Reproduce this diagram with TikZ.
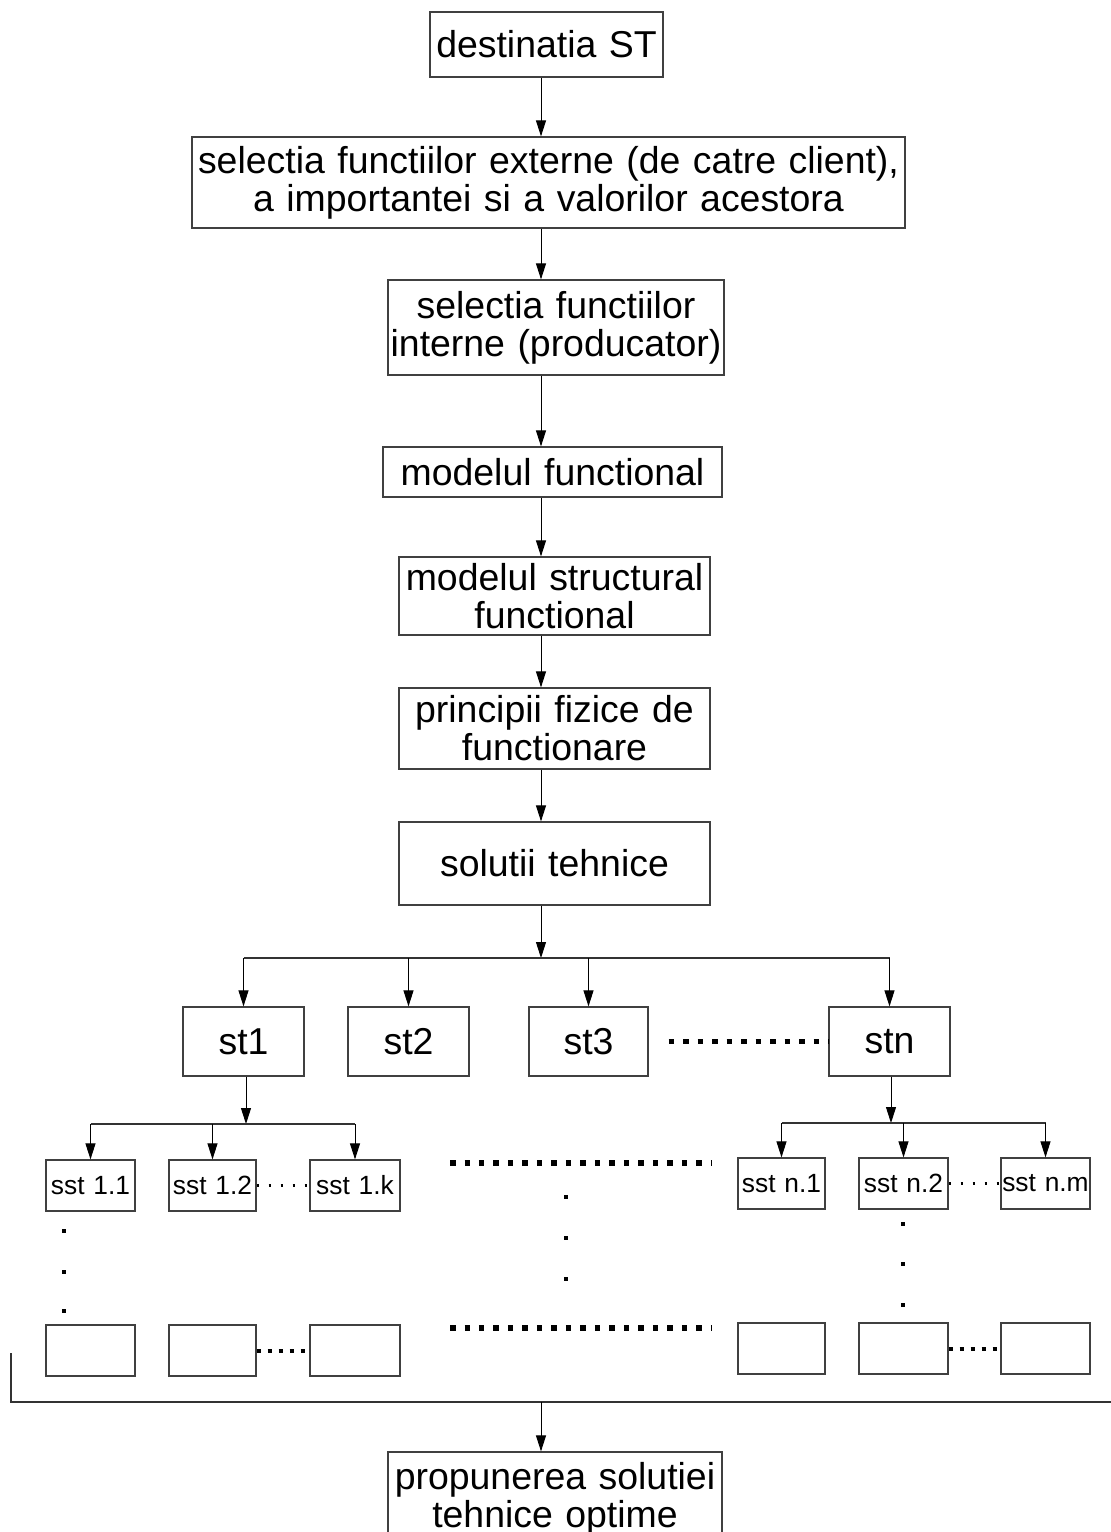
\documentclass[tikz,border=0pt]{standalone}
\usepackage{fontspec}
\setmainfont{Liberation Sans}
\usepackage{tikz}
\usetikzlibrary{arrows.meta}
\newlength\pxu
\setlength\pxu{0.02cm}

\begin{document}
\begin{tikzpicture}[x=0.02cm, y=-0.02cm,
  blk/.style 2 args={draw=black!75, line width=0.7pt, inner sep=0pt, text width=#1\pxu, minimum height=#2\pxu, align=center, font=\fontsize{21.3}{21.5}\selectfont},
  sblk/.style 2 args={blk={#1}{#2}, font=\fontsize{15}{17}\selectfont},
  arr/.style={->, >={Triangle[length=0.32cm,width=0.2cm]}, line width=0.55pt},
  bus/.style={line width=0.6pt, draw=black!80},
  bigdots/.style={line width=0.11cm, dash pattern=on 0.11cm off 0.18cm},
  middots/.style={line width=0.08cm, dash pattern=on 0.08cm off 0.14cm},
  thindots/.style={line width=0.05cm, dash pattern=on 0.05cm off 0.19cm}]
\useasboundingbox (0,0) rectangle (1111,1532);
\clip (0,0) rectangle (1111,1532);
\coordinate (spine) at (541,0);

\node[blk={233}{65}] (dest) at (546.5,44.5) {destinatia ST};
\node[blk={713}{91}] (ext) at (548.5,182.5) {selectia functiilor externe (de catre client),\\a importantei si a valorilor acestora};
\node[blk={336}{95}] (int) at (556,327.5) {selectia functiilor\\interne (producator)};
\node[blk={339}{50}] (func) at (552.5,472) {modelul functional};
\node[blk={311}{78}] (struct) at (554.5,596) {modelul structural\\functional};
\node[blk={311}{81}] (princ) at (554.5,728.5) {principii fizice de\\functionare};
\node[blk={311}{83}] (sol) at (554.5,863.5) {solutii tehnice};

\draw[arr] (dest.south -| spine) -- (ext.north -| spine);
\draw[arr] (ext.south -| spine) -- (int.north -| spine);
\draw[arr] (int.south -| spine) -- (func.north -| spine);
\draw[arr] (func.south -| spine) -- (struct.north -| spine);
\draw[arr] (struct.south -| spine) -- (princ.north -| spine);
\draw[arr] (princ.south -| spine) -- (sol.north -| spine);

\node[blk={121}{69}] (st1) at (243.5,1041.5) {st1};
\node[blk={121}{69}] (st2) at (408.5,1041.5) {st2};
\node[blk={119}{69}] (st3) at (588.5,1041.5) {st3};
\node[blk={121}{69}] (stn) at (889.5,1041.5) {stn};

\coordinate (hub) at (541,958);
\draw[arr] (sol.south -| spine) -- (hub);
\draw[bus] (st1 |- hub) -- (stn |- hub);
\foreach \n in {st1,st2,st3,stn}
  \draw[arr] (\n |- hub) -- (\n.north);
\draw[bigdots] ([xshift=0.4cm]st3.east) -- (stn.west);

\node[sblk={89}{51}] (s11) at (90.5,1185.5) {sst 1.1};
\node[sblk={87}{51}] (s12) at (212.5,1185.5) {sst 1.2};
\node[sblk={90}{51}] (s1k) at (355,1185.5) {sst 1.k};
\node[sblk={87}{51}] (sn1) at (781.5,1183.5) {sst n.1};
\node[sblk={89}{51}] (sn2) at (903.5,1183.5) {sst n.2};
\node[sblk={89}{51}] (snm) at (1045.5,1183.5) {sst n.m};

\node[sblk={89}{51}] (e11) at (90.5,1350.5) {};
\node[sblk={87}{51}] (e12) at (212.5,1350.5) {};
\node[sblk={90}{51}] (e1k) at (355,1350.5) {};
\node[sblk={87}{51}] (en1) at (781.5,1348.5) {};
\node[sblk={89}{51}] (en2) at (903.5,1348.5) {};
\node[sblk={89}{51}] (enm) at (1045.5,1348.5) {};

\coordinate (hubA) at (246,1124);
\coordinate (hubB) at (891,1123);
\draw[arr] (st1.south -| hubA) -- (hubA);
\draw[bus] (s11 |- hubA) -- (s1k |- hubA);
\foreach \n in {s11,s12,s1k}
  \draw[arr] (\n |- hubA) -- (\n.north);
\draw[arr] (stn.south -| hubB) -- (hubB);
\draw[bus] (sn1 |- hubB) -- (snm |- hubB);
\foreach \n in {sn1,sn2,snm}
  \draw[arr] (\n |- hubB) -- (\n.north);

\draw[thindots] (s12.east) -- (s1k.west);
\draw[thindots] (sn2.east) -- (snm.west);
\draw[middots] (e12.east) -- (e1k.west);
\draw[middots] (en2.east) -- (enm.west);

\draw[bigdots] (450,1163) -- (712,1163);
\draw[bigdots] (450,1328) -- (712,1328);
\foreach \yy in {1231,1272,1311}
  \fill (64,\yy) +(-2,-2) rectangle +(2,2);
\foreach \yy in {1197,1238,1279}
  \fill (566,\yy) +(-2,-2) rectangle +(2,2);
\foreach \yy in {1224,1264,1305}
  \fill (903,\yy) +(-2,-2) rectangle +(2,2);

\node[blk={334}{93}] (opt) at (555,1498.5) {propunerea solutiei\\tehnice optime};
\coordinate (brT) at (11,1353);
\coordinate (brC) at (11,1402);
\coordinate (brR) at (1111,1402);
\draw[bus] (brT) -- (brC) -- (brR);
\draw[arr] (brC -| spine) -- (opt.north -| spine);
\end{tikzpicture}
\end{document}
